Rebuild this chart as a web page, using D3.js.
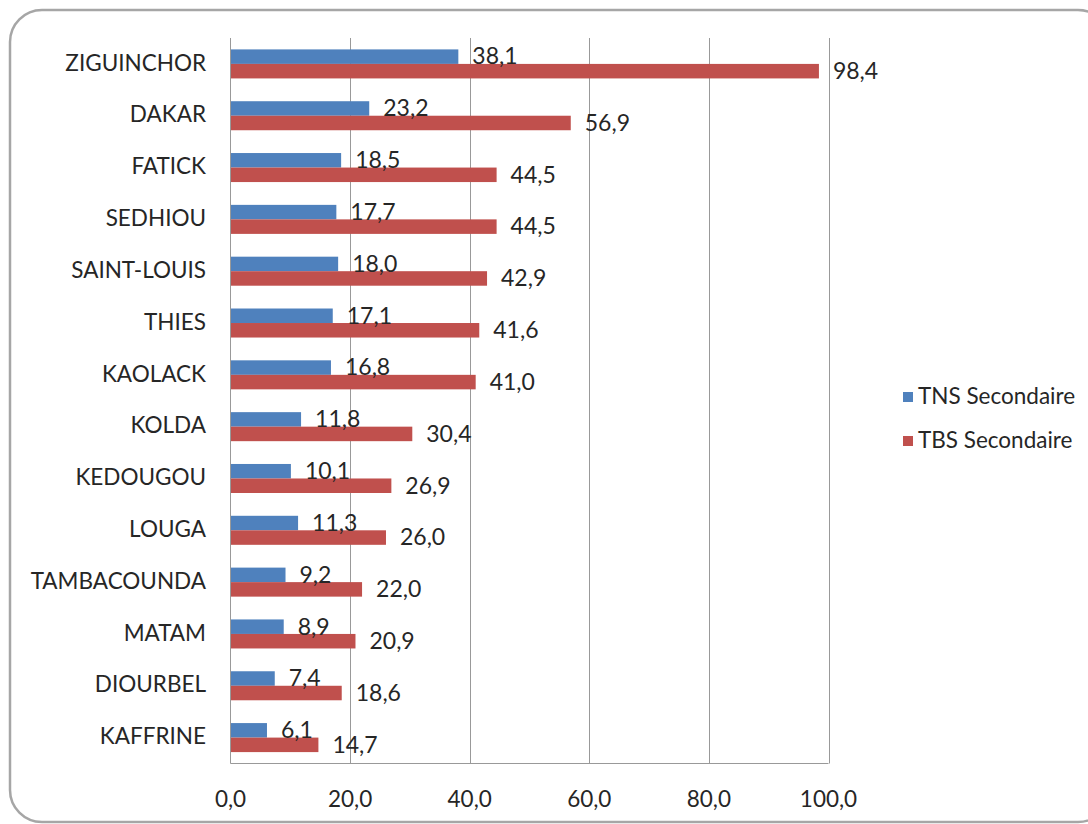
<!DOCTYPE html>
<html><head><meta charset="utf-8">
<script src="https://cdn.jsdelivr.net/npm/d3@7/dist/d3.min.js"></script>
<style>body{margin:0;background:#fff}svg{display:block}text{font-family:Lato,"Open Sans",sans-serif;fill:#262626}</style>
</head><body>
<script>
const categories = ["ZIGUINCHOR","DAKAR","FATICK","SEDHIOU","SAINT-LOUIS","THIES","KAOLACK","KOLDA","KEDOUGOU","LOUGA","TAMBACOUNDA","MATAM","DIOURBEL","KAFFRINE"];
const tnsValues = [38.1,23.2,18.5,17.7,18.0,17.1,16.8,11.8,10.1,11.3,9.2,8.9,7.4,6.1];
const tbsValues = [98.4,56.9,44.5,44.5,42.9,41.6,41.0,30.4,26.9,26.0,22.0,20.9,18.6,14.7];
const seriesNames = ["TNS Secondaire","TBS Secondaire"];
const seriesColors = ["#4F81BD","#C0504D"];
const xTicks = [0,20,40,60,80,100];

const W=1088,H=824;
const svg=d3.select("body").append("svg").attr("width",W).attr("height",H);
svg.append("rect").attr("x",10).attr("y",10).attr("width",1100).attr("height",812)
  .attr("rx",32).attr("fill","#fff").attr("stroke","#a6a6a6").attr("stroke-width",2.5);

const L=230.5,R=828.5,T=38,B=763.5;
const x=d3.scaleLinear().domain([0,100]).range([L,R]);
const y=d3.scaleBand().domain(categories).range([T,B]).paddingInner(0.44).paddingOuter(0.22);
const sub=d3.scaleBand().domain([0,1]).range([0,y.bandwidth()]);

const fmt=v=>d3.format(".1f")(v).replace(".",",");

// gridlines
svg.append("g").selectAll("line").data(xTicks.slice(1)).join("line")
  .attr("x1",d=>Math.round(x(d))+0.5).attr("x2",d=>Math.round(x(d))+0.5).attr("y1",T).attr("y2",B)
  .attr("stroke","#999").attr("stroke-width",1);

const series=[tnsValues,tbsValues];
series.forEach((vals,si)=>{
  const g=svg.append("g");
  g.selectAll("rect").data(vals).join("rect")
    .attr("x",x(0)).attr("y",(d,i)=>y(categories[i])+sub(si))
    .attr("width",d=>x(d)-x(0)).attr("height",sub.bandwidth())
    .attr("fill",seriesColors[si]);
});
series.forEach((vals,si)=>{
  svg.append("g").selectAll("text").data(vals).join("text")
    .attr("x",d=>x(d)+14).attr("y",(d,i)=>y(categories[i])+sub(si)+sub.bandwidth()/2+2)
    .attr("dominant-baseline","middle").attr("font-size",23).text(d=>fmt(d));
});

// axes lines
svg.append("line").attr("x1",L).attr("x2",L).attr("y1",T).attr("y2",B).attr("stroke","#999");
svg.append("line").attr("x1",L).attr("x2",R).attr("y1",B).attr("y2",B).attr("stroke","#999");

// category labels
svg.append("g").selectAll("text").data(categories).join("text")
  .attr("x",206).attr("y",d=>y(d)+y.bandwidth()/2+1).attr("text-anchor","end")
  .attr("dominant-baseline","middle").attr("font-size",22.5).text(d=>d);

// x tick labels
svg.append("g").selectAll("text").data(xTicks).join("text")
  .attr("x",d=>x(d)).attr("y",801).attr("text-anchor","middle")
  .attr("dominant-baseline","middle").attr("font-size",22.5).text(d=>fmt(d));

// legend
const lg=svg.append("g");
seriesNames.forEach((n,i)=>{
  const cy=397+i*44;
  lg.append("rect").attr("x",903).attr("y",cy-5).attr("width",10).attr("height",10).attr("fill",seriesColors[i]);
  lg.append("text").attr("x",918).attr("y",cy+1).attr("dominant-baseline","middle").attr("font-size",22.5).text(n);
});
</script>
</body></html>
